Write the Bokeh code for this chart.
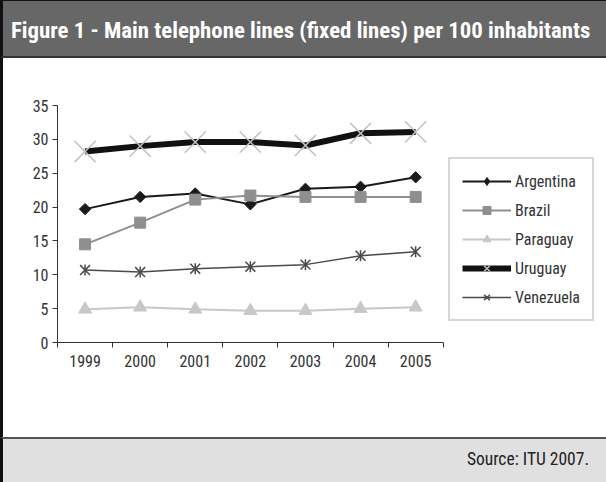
import math
from bokeh.plotting import figure
from bokeh.models import Range1d, FixedTicker, Legend, LegendItem, Div
from bokeh.layouts import column, row
from bokeh.embed import file_html
from bokeh.resources import INLINE

FONT = "Roboto Condensed"

# Main telephone lines per 100 inhabitants
years = [1999, 2000, 2001, 2002, 2003, 2004, 2005]
argentina = [19.7, 21.5, 22.0, 20.4, 22.7, 23.0, 24.4]
brazil = [14.5, 17.7, 21.1, 21.7, 21.5, 21.5, 21.5]
paraguay = [4.9, 5.2, 4.9, 4.7, 4.7, 5.0, 5.2]
uruguay = [28.2, 29.0, 29.6, 29.6, 29.1, 30.9, 31.1]
venezuela = [10.7, 10.4, 10.9, 11.2, 11.5, 12.8, 13.4]
y_ticks = [0, 5, 10, 15, 20, 25, 30, 35]

title_text = "Figure 1 - Main telephone lines (fixed lines) per 100 inhabitants"
source_text = "Source: ITU 2007."

W = 606
RULE = 3  # dark rule down the left edge

header = Div(text=title_text, width=W, height=58, margin=0, styles={
    "background-color": "#676767", "color": "white", "font-family": FONT,
    "font-weight": "bold", "font-size": "22.8px", "line-height": "60px",
    "padding-left": "8px", "box-sizing": "border-box", "white-space": "nowrap",
    "overflow": "hidden", "border-top": "1px solid #111111",
    "border-bottom": "2px solid #333333", "border-left": f"{RULE}px solid #111111",
})

footer = Div(text=source_text, width=W, height=45, margin=0, styles={
    "background-color": "#e0e0e0", "color": "#222222", "font-family": FONT,
    "font-size": "17.5px", "line-height": "40px", "text-align": "right",
    "padding-right": "17px", "box-sizing": "border-box", "white-space": "nowrap",
    "overflow": "hidden", "border-top": "2px solid #555555",
    "border-left": f"{RULE}px solid #111111",
})

rule = Div(text="", width=RULE, height=379, margin=0,
           styles={"background-color": "#111111"})

p = figure(width=W - RULE, height=379, x_range=Range1d(1998.5, 2008.3),
           y_range=Range1d(0, 35), output_backend="svg", toolbar_location=None, margin=0,
           min_border_left=54, min_border_right=9, min_border_top=47, min_border_bottom=95)
p.xgrid.visible = False
p.ygrid.visible = False
p.outline_line_color = None
p.background_fill_color = "white"
p.border_fill_color = "white"

r_arg_l = p.line(years, argentina, line_color="#1a1a1a", line_width=2)
r_arg_m = p.scatter(years, argentina, marker="square", size=8, angle=math.pi / 4,
                    fill_color="#1a1a1a", line_color="#1a1a1a")
# legend swatch for the diamond series
r_arg_key = p.scatter(years, argentina, marker="diamond", size=14, fill_color="#1a1a1a",
                      line_color="#1a1a1a", visible=False)
r_bra_l = p.line(years, brazil, line_color="#8f8f8f", line_width=2)
r_bra_m = p.scatter(years, brazil, marker="square", size=11, fill_color="#8f8f8f",
                    line_color="#8f8f8f")
r_par_l = p.line(years, paraguay, line_color="#c8c8c8", line_width=2)
r_par_m = p.scatter(years, paraguay, marker="triangle", size=13, fill_color="#c8c8c8",
                    line_color="#c8c8c8")
r_uru_l = p.line(years, uruguay, line_color="#111111", line_width=6)
r_uru_m = p.scatter(years, uruguay, marker="x", size=30, line_color="#c0c0c0", line_width=1.5)
r_ven_l = p.line(years, venezuela, line_color="#4a4a4a", line_width=1.5)
# six-armed star: an x crossed by a vertical stroke
r_ven_x = p.scatter(years, venezuela, marker="x", size=14, line_color="#4a4a4a",
                    line_width=1.5)
r_ven_v = p.scatter(years, venezuela, marker="dash", size=11, angle=math.pi / 2,
                    line_color="#4a4a4a", line_width=1.5)

# category axis: labels at the years, ticks between them
xa = p.xaxis[0]
xa.bounds = (years[0] - 0.5, years[-1] + 0.5)
xa.ticker = FixedTicker(ticks=years, minor_ticks=[y - 0.5 for y in years] + [years[-1] + 0.5])
xa.major_tick_out = 0
xa.major_tick_in = 0
xa.minor_tick_out = 5
xa.minor_tick_in = 0
xa.minor_tick_line_color = "#333333"
xa.major_label_standoff = 7

ya = p.yaxis[0]
ya.ticker = FixedTicker(ticks=y_ticks, minor_ticks=[])
ya.major_tick_out = 5
ya.major_tick_in = 0
ya.major_label_standoff = 4

for ax in (xa, ya):
    ax.axis_line_color = "#333333"
    ax.major_tick_line_color = "#333333"
    ax.major_label_text_font = FONT
    ax.major_label_text_font_size = "16px"
    ax.major_label_text_color = "#333333"

legend = Legend(items=[
    LegendItem(label="Argentina", renderers=[r_arg_l, r_arg_key]),
    LegendItem(label="Brazil", renderers=[r_bra_l, r_bra_m]),
    LegendItem(label="Paraguay", renderers=[r_par_l, r_par_m]),
    LegendItem(label="Uruguay", renderers=[r_uru_l, r_uru_m]),
    LegendItem(label="Venezuela", renderers=[r_ven_l, r_ven_x, r_ven_v]),
], location=(391, 21))
legend.border_line_color = "#b0b0b0"
legend.border_line_width = 2
legend.background_fill_color = "white"
legend.padding = 12
legend.spacing = 9
legend.glyph_width = 49
legend.glyph_height = 20
legend.label_standoff = 4
legend.margin = 0
legend.label_text_font = FONT
legend.label_text_font_size = "16px"
legend.label_text_color = "#333333"
p.add_layout(legend, "center")

layout = column(header, row(rule, p, spacing=0, margin=0), footer, spacing=0, margin=0)
open("out.html", "w").write(file_html(layout, INLINE))
